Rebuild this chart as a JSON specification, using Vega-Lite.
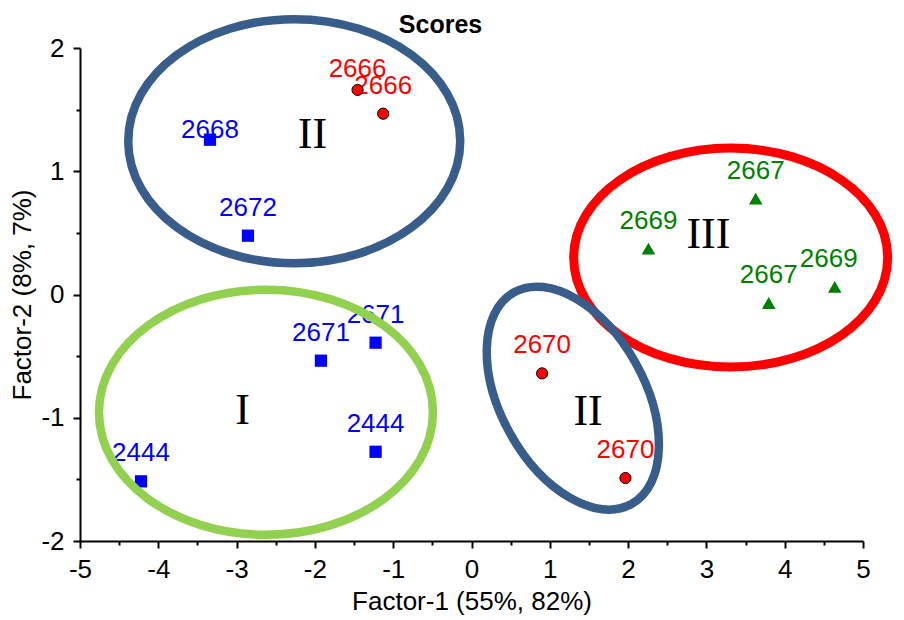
{
  "$schema": "https://vega.github.io/schema/vega-lite/v6.json",
  "width": 783,
  "height": 493,
  "autosize": {"type": "none"},
  "padding": {"left": 80, "top": 48, "right": 41, "bottom": 79},
  "background": "white",
  "config": {"view": {"stroke": null}, "font": "Liberation Sans"},
  "title": {"text": "Scores", "fontSize": 25, "fontWeight": "bold", "font": "Liberation Sans", "color": "black", "anchor": "middle", "frame": "group", "dx": -31, "offset": -56, "baseline": "alphabetic"},
  "datasets": {
    "points": [
      {"id": 1, "x": -1.455, "y": 1.66, "label": "2666", "grp": "red"},
      {"id": 2, "x": -1.128, "y": 1.467, "label": "2666", "grp": "red"},
      {"id": 3, "x": 0.902, "y": -0.64, "label": "2670", "grp": "red"},
      {"id": 4, "x": 1.966, "y": -1.489, "label": "2670", "grp": "red"},
      {"id": 5, "x": -3.34, "y": 1.256, "label": "2668", "grp": "blue"},
      {"id": 6, "x": -2.855, "y": 0.477, "label": "2672", "grp": "blue"},
      {"id": 7, "x": -1.923, "y": -0.537, "label": "2671", "grp": "blue"},
      {"id": 8, "x": -1.225, "y": -0.391, "label": "2671", "grp": "blue"},
      {"id": 9, "x": -1.225, "y": -1.276, "label": "2444", "grp": "blue"},
      {"id": 10, "x": -4.221, "y": -1.516, "label": "2444", "grp": "blue"},
      {"id": 11, "x": 2.26, "y": 0.372, "label": "2669", "grp": "green"},
      {"id": 12, "x": 3.63, "y": 0.777, "label": "2667", "grp": "green"},
      {"id": 13, "x": 3.796, "y": -0.069, "label": "2667", "grp": "green"},
      {"id": 14, "x": 4.639, "y": 0.061, "label": "2669", "grp": "green"}
    ],
    "ellipses": [
      {"name": "blueTop", "x": -2.264, "y": 1.244},
      {"name": "green", "x": -2.625, "y": -0.955},
      {"name": "red", "x": 3.31, "y": 0.3},
      {"name": "blueTilt", "x": 1.294, "y": -0.841}
    ],
    "numerals": [
      {"text": "II", "x": -2.032, "y": 1.191},
      {"text": "I", "x": -2.925, "y": -1.048},
      {"text": "II", "x": 1.489, "y": -1.056},
      {"text": "III", "x": 3.026, "y": 0.377}
    ]
  },
  "encoding": {
    "x": {
      "field": "x", "type": "quantitative",
      "scale": {"domain": [-5, 5], "nice": false, "zero": false},
      "axis": {
        "title": "Factor-1 (55%, 82%)",
        "values": [-5, -4.5, -4, -3.5, -3, -2.5, -2, -1.5, -1, -0.5, 0, 0.5, 1, 1.5, 2, 2.5, 3, 3.5, 4, 4.5, 5],
        "labelExpr": "datum.value % 1 === 0 ? '' + datum.value : ''",
        "tickSize": {"condition": {"test": "datum.value % 1 === 0", "value": 7}, "value": 4},
        "grid": false,
        "domainColor": "black", "domainWidth": 2,
        "tickColor": "black", "tickWidth": 2,
        "labelFontSize": 26, "labelColor": "black", "labelFont": "Liberation Sans",
        "labelPadding": 8, "labelFlush": false, "labelOverlap": false,
        "titleFontSize": 26, "titleFont": "Liberation Sans", "titleFontWeight": "normal", "titleColor": "black", "titlePadding": 6
      }
    },
    "y": {
      "field": "y", "type": "quantitative",
      "scale": {"domain": [-2, 2], "nice": false, "zero": false},
      "axis": {
        "title": "Factor-2 (8%, 7%)",
        "values": [-2, -1.5, -1, -0.5, 0, 0.5, 1, 1.5, 2],
        "labelExpr": "datum.value % 1 === 0 ? '' + datum.value : ''",
        "tickSize": {"condition": {"test": "datum.value % 1 === 0", "value": 7}, "value": 4},
        "grid": false,
        "domainColor": "black", "domainWidth": 2,
        "tickColor": "black", "tickWidth": 2,
        "labelFontSize": 26, "labelColor": "black", "labelFont": "Liberation Sans",
        "labelPadding": 9, "labelOverlap": false,
        "titleFontSize": 26, "titleFont": "Liberation Sans", "titleFontWeight": "normal", "titleColor": "black", "titlePadding": 5
      }
    }
  },
  "layer": [
    {
      "data": {"values": [{}]},
      "mark": {"type": "rule", "color": "#A0A0A0", "strokeWidth": 1},
      "encoding": {"x": {"datum": 0, "type": "quantitative"}, "y": null}
    },
    {
      "data": {"values": [{}]},
      "mark": {"type": "rule", "color": "#A0A0A0", "strokeWidth": 1},
      "encoding": {"y": {"datum": 0, "type": "quantitative"}, "x": null}
    },
    {
      "data": {"name": "points"},
      "transform": [{"filter": "datum.id !== 1 && datum.id !== 5 && datum.id !== 14"}],
      "mark": {"type": "text", "dy": -20, "align": "center", "baseline": "alphabetic", "fontSize": 26, "font": "Liberation Sans"},
      "encoding": {
        "text": {"field": "label"},
        "color": {"field": "grp", "type": "nominal", "scale": {"domain": ["red", "blue", "green"], "range": ["#FF0000", "#0000FF", "#008000"]}, "legend": null}
      }
    },
    {
      "data": {"name": "points"},
      "transform": [{"filter": "datum.id === 1"}],
      "mark": {"type": "text", "dy": -13, "align": "center", "baseline": "alphabetic", "fontSize": 26, "font": "Liberation Sans"},
      "encoding": {
        "text": {"field": "label"},
        "color": {"field": "grp", "type": "nominal", "scale": {"domain": ["red", "blue", "green"], "range": ["#FF0000", "#0000FF", "#008000"]}, "legend": null}
      }
    },
    {
      "data": {"name": "points"},
      "transform": [{"filter": "datum.id === 5"}],
      "mark": {"type": "text", "dy": -2, "align": "center", "baseline": "alphabetic", "fontSize": 26, "font": "Liberation Sans"},
      "encoding": {
        "text": {"field": "label"},
        "color": {"field": "grp", "type": "nominal", "scale": {"domain": ["red", "blue", "green"], "range": ["#FF0000", "#0000FF", "#008000"]}, "legend": null}
      }
    },
    {
      "data": {"name": "points"},
      "transform": [{"filter": "datum.id === 14"}],
      "mark": {"type": "text", "dy": -20, "dx": -6, "align": "center", "baseline": "alphabetic", "fontSize": 26, "font": "Liberation Sans"},
      "encoding": {
        "text": {"field": "label"},
        "color": {"field": "grp", "type": "nominal", "scale": {"domain": ["red", "blue", "green"], "range": ["#FF0000", "#0000FF", "#008000"]}, "legend": null}
      }
    },
    {
      "data": {"name": "points"},
      "transform": [{"filter": "datum.grp === 'red'"}],
      "mark": {"type": "point", "shape": "circle", "filled": true, "fill": "#FF0000", "stroke": "black", "strokeWidth": 1, "size": 125, "opacity": 1}
    },
    {
      "data": {"name": "points"},
      "transform": [{"filter": "datum.grp === 'blue'"}],
      "mark": {"type": "point", "shape": "square", "filled": true, "fill": "#0000FF", "strokeWidth": 0, "size": 150, "opacity": 1}
    },
    {
      "data": {"name": "points"},
      "transform": [{"filter": "datum.grp === 'green'"}],
      "mark": {"type": "point", "shape": "triangle-up", "filled": true, "fill": "#008000", "strokeWidth": 0, "size": 185, "opacity": 1}
    },
    {
      "data": {"name": "ellipses"},
      "transform": [{"filter": "datum.name === 'blueTop'"}],
      "mark": {"type": "point", "shape": "M-166,0A166,122,0,1,0,166,0A166,122,0,1,0,-166,0Z", "size": 4, "filled": false, "fill": "transparent", "stroke": "#385D8A", "strokeWidth": 8.5, "opacity": 1}
    },
    {
      "data": {"name": "ellipses"},
      "transform": [{"filter": "datum.name === 'green'"}],
      "mark": {"type": "point", "shape": "M-167,0A167,122.5,0,1,0,167,0A167,122.5,0,1,0,-167,0Z", "size": 4, "filled": false, "fill": "transparent", "stroke": "#92D050", "strokeWidth": 8.5, "opacity": 1}
    },
    {
      "data": {"name": "ellipses"},
      "transform": [{"filter": "datum.name === 'red'"}],
      "mark": {"type": "point", "shape": "M-157,0A157,109.5,0,1,0,157,0A157,109.5,0,1,0,-157,0Z", "size": 4, "filled": false, "fill": "transparent", "stroke": "#FF0000", "strokeWidth": 9, "opacity": 1}
    },
    {
      "data": {"name": "ellipses"},
      "transform": [{"filter": "datum.name === 'blueTilt'"}],
      "mark": {"type": "point", "shape": "M0,-121A72,121,0,1,0,0,121A72,121,0,1,0,0,-121Z", "size": 4, "angle": 331, "filled": false, "fill": "transparent", "stroke": "#385D8A", "strokeWidth": 8.5, "opacity": 1}
    },
    {
      "data": {"name": "numerals"},
      "mark": {"type": "text", "align": "center", "baseline": "alphabetic", "fontSize": 44, "font": "Liberation Serif", "color": "black"},
      "encoding": {"text": {"field": "text"}}
    }
  ]
}
